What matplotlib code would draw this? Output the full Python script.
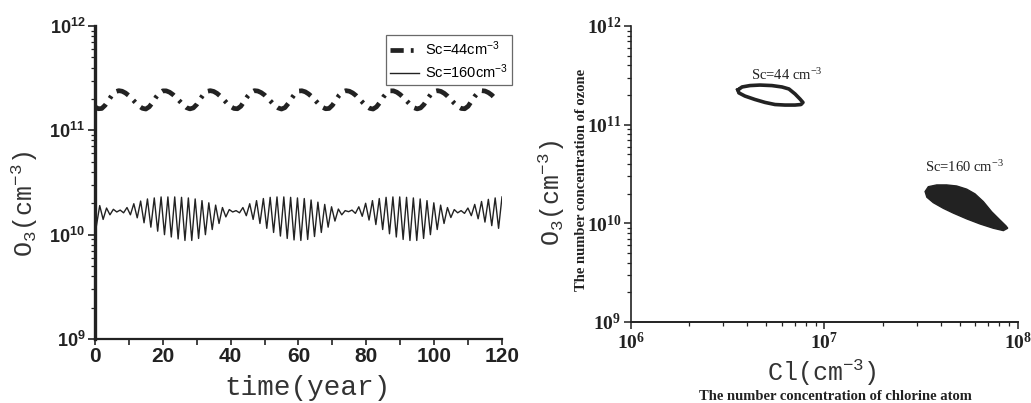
import numpy as np
import matplotlib.pyplot as plt
from matplotlib.ticker import MultipleLocator, LogLocator, NullFormatter

plt.rcParams['font.family'] = 'Liberation Sans'
plt.rcParams['font.weight'] = 'bold'

ink = '#222222'

# Sc = 44 cm^-3 : ozone (1e11 cm^-3), yearly samples t = 0..118
t_44 = np.arange(0, 119)
o3_44 = [1.68, 1.61, 1.62, 1.74, 1.94, 2.17, 2.34, 2.40, 2.37, 2.28, 2.15, 1.99, 1.84, 1.71,
         1.625,
         1.60, 1.68, 1.85, 2.08, 2.28, 2.39, 2.39, 2.32, 2.20, 2.05, 1.90, 1.76, 1.65, 1.605,
         1.64, 1.77, 1.99, 2.21, 2.36, 2.40, 2.36, 2.26, 2.12, 1.96, 1.81, 1.69, 1.62,
         1.61, 1.70, 1.90, 2.12, 2.31, 2.40, 2.38, 2.30, 2.18, 2.02, 1.87, 1.73, 1.64, 1.60,
         1.65, 1.81, 2.03, 2.25, 2.38, 2.395, 2.34, 2.23, 2.09, 1.93, 1.78, 1.67, 1.61,
         1.62, 1.74, 1.94, 2.17, 2.34, 2.40, 2.37, 2.28, 2.15, 1.99, 1.84, 1.71, 1.625,
         1.60, 1.68, 1.85, 2.08, 2.28, 2.39, 2.39, 2.32, 2.20, 2.05, 1.90, 1.76, 1.65, 1.605,
         1.64, 1.77, 1.99, 2.21, 2.36, 2.40, 2.36, 2.26, 2.12, 1.96, 1.81, 1.69, 1.62,
         1.61, 1.70, 1.90, 2.12, 2.31, 2.40, 2.38, 2.30, 2.18, 2.02]

# Sc = 160 cm^-3 : ozone (1e10 cm^-3), troughs and crests of each ~2 year swing
lows_160 = [1.20, 1.40, 1.55, 1.65, 1.62, 1.55, 1.45, 1.30, 1.18, 1.08,
            1.00, 0.95, 0.91, 0.88, 0.88, 0.92, 1.00, 1.12, 1.28, 1.48,
            1.65, 1.62, 1.52, 1.40, 1.28, 1.15, 1.05, 0.97, 0.92, 0.89,
            0.88, 0.90, 0.96, 1.05, 1.18, 1.35, 1.55, 1.66, 1.60, 1.50,
            1.38, 1.25, 1.12, 1.02, 0.95, 0.90, 0.88, 0.88, 0.92, 1.00,
            1.12, 1.28, 1.46, 1.62, 1.60, 1.52, 1.42, 1.32, 1.22, 1.15]
highs_160 = [1.90, 1.80, 1.75, 1.72, 1.82, 1.98, 2.10, 2.20, 2.25, 2.30,
             2.30, 2.30, 2.28, 2.25, 2.20, 2.12, 2.02, 1.92, 1.82, 1.74,
             1.70, 1.82, 1.98, 2.12, 2.22, 2.28, 2.30, 2.30, 2.28, 2.25,
             2.22, 2.15, 2.05, 1.95, 1.85, 1.76, 1.70, 1.72, 1.85, 2.00,
             2.12, 2.22, 2.28, 2.30, 2.30, 2.28, 2.25, 2.20, 2.12, 2.02,
             1.92, 1.82, 1.74, 1.70, 1.80, 1.95, 2.08, 2.18, 2.25, 2.30]

# phase portraits (Cl, O3)
loop44_cl = [3.57e6, 3.75e6, 4.12e6, 4.64e6, 5.35e6, 6.03e6, 6.55e6, 7.04e6, 7.47e6, 7.74e6,
             7.56e6, 7.04e6, 6.25e6, 5.55e6, 4.93e6, 4.37e6, 3.88e6, 3.61e6, 3.57e6]
loop44_o3 = [2.25e11, 2.41e11, 2.49e11, 2.52e11, 2.49e11, 2.41e11, 2.30e11, 2.05e11, 1.82e11,
             1.68e11, 1.60e11, 1.58e11, 1.58e11, 1.60e11, 1.68e11, 1.80e11, 1.95e11, 2.10e11,
             2.25e11]
blob160_cl = [3.31e7, 3.44e7, 3.80e7, 4.28e7, 4.82e7, 5.43e7, 5.99e7, 6.62e7, 7.31e7, 8.07e7,
              8.67e7, 8.85e7, 8.40e7, 7.45e7, 6.36e7, 5.43e7, 4.63e7, 4.11e7, 3.65e7, 3.38e7]
blob160_o3 = [2.10e10, 2.35e10, 2.45e10, 2.45e10, 2.39e10, 2.22e10, 1.99e10, 1.66e10, 1.31e10,
              1.08e10, 9.41e9, 8.92e9, 8.44e9, 8.92e9, 9.86e9, 1.11e10, 1.27e10, 1.42e10,
              1.62e10, 1.84e10]

t_160 = np.linspace(0.4, 120, 2 * len(lows_160))
o3_160 = np.ravel(np.column_stack([lows_160, highs_160]))

fig = plt.figure(figsize=(10.31, 4.03), dpi=100)

# ---------------- left: time series ----------------
ax1 = fig.add_axes([0.0921, 0.1588, 0.3948, 0.7767])
l44, = ax1.plot(t_44, np.array(o3_44) * 1e11, color=ink, lw=3.4, solid_capstyle='butt',
                dash_capstyle='butt', label=r'Sc=44cm$\mathdefault{^{-3}}$')
l44.set_dashes((2.8, 1.5, 0.6, 1.5))
ax1.plot(t_160, o3_160 * 1e10, color=ink, lw=1.0, label=r'Sc=160cm$\mathdefault{^{-3}}$')
ax1.set_yscale('log')
ax1.set_xlim(0, 120)
ax1.set_ylim(1e9, 1e12)
ax1.xaxis.set_major_locator(MultipleLocator(20))
ax1.xaxis.set_minor_locator(MultipleLocator(10))
ax1.yaxis.set_minor_locator(LogLocator(base=10, subs=np.arange(2, 10)))
ax1.yaxis.set_minor_formatter(NullFormatter())
for s in ['top', 'right']:
    ax1.spines[s].set_visible(False)
ax1.spines['left'].set_linewidth(2.4)
ax1.spines['bottom'].set_linewidth(1.6)
ax1.spines['left'].set_color(ink)
ax1.spines['bottom'].set_color(ink)
ax1.tick_params(axis='x', which='major', direction='out', length=4, width=1.2, labelsize=15,
                colors=ink, pad=2)
ax1.tick_params(axis='x', which='minor', direction='out', length=4, width=1.2, colors=ink)
ax1.tick_params(axis='y', which='major', direction='out', length=5, width=1.2, labelsize=13,
                colors=ink, pad=2)
ax1.tick_params(axis='y', which='minor', direction='out', length=3, width=0.9, colors=ink)

leg = ax1.legend(loc='upper right', bbox_to_anchor=(1.025, 0.971), borderaxespad=0,
                 frameon=True, fancybox=False, edgecolor='#444444', borderpad=0.3,
                 handlelength=2.0, handletextpad=0.4, labelspacing=0.3,
                 prop={'family': 'Liberation Sans', 'weight': 'normal', 'size': 10.5})
leg.get_frame().set_linewidth(0.9)

ax1.text(0.523, -0.155, 'time(year)', transform=ax1.transAxes, ha='center', va='center',
         family='Liberation Mono', weight='normal', fontsize=20, color='#333333')
ax1.text(-0.172, 0.431, r'$\mathdefault{O_3(cm^{-3})}$', transform=ax1.transAxes, ha='center',
         va='center', rotation=90, family='Liberation Mono', weight='normal', fontsize=18,
         color='#333333')

# ---------------- right: phase portrait ----------------
ax2 = fig.add_axes([0.612, 0.201, 0.3754, 0.7345])
ax2.plot(loop44_cl, loop44_o3, color=ink, lw=2.6, solid_joinstyle='round')
ax2.fill(blob160_cl, blob160_o3, color=ink, lw=1.0, edgecolor=ink)
ax2.set_xscale('log')
ax2.set_yscale('log')
ax2.set_xlim(1e6, 1e8)
ax2.set_ylim(1e9, 1e12)
ax2.xaxis.set_minor_locator(LogLocator(base=10, subs=np.arange(2, 10)))
ax2.yaxis.set_minor_locator(LogLocator(base=10, subs=np.arange(2, 10)))
ax2.xaxis.set_minor_formatter(NullFormatter())
ax2.yaxis.set_minor_formatter(NullFormatter())
for s in ['top', 'right']:
    ax2.spines[s].set_visible(False)
ax2.spines['left'].set_linewidth(1.2)
ax2.spines['bottom'].set_linewidth(1.4)
ax2.spines['left'].set_color(ink)
ax2.spines['bottom'].set_color(ink)
ax2.tick_params(which='major', direction='out', length=5, width=1.1, labelsize=14, colors=ink,
                labelfontfamily='Liberation Serif', pad=2)
ax2.tick_params(which='minor', direction='out', length=3, width=0.9, colors=ink)

ax2.text(6.4e6, 3.2e11, r'Sc=44 cm$\mathdefault{^{-3}}$', ha='center', va='center',
         family='Liberation Serif', weight='normal', fontsize=10.5, color=ink)
ax2.text(5.3e7, 3.7e10, r'Sc=160 cm$\mathdefault{^{-3}}$', ha='center', va='center',
         family='Liberation Serif', weight='normal', fontsize=10.5, color=ink)

ax2.text(-0.204, 0.436, r'$\mathdefault{O_3(cm^{-3})}$', transform=ax2.transAxes, ha='center',
         va='center', rotation=90, family='Liberation Mono', weight='normal', fontsize=18,
         color='#333333')
ax2.text(-0.127, 0.48, 'The number concentration of ozone', transform=ax2.transAxes, ha='center',
         va='center', rotation=90, family='Liberation Serif', weight='bold', fontsize=10.5,
         color=ink)
ax2.text(0.494, -0.172, r'$\mathdefault{Cl(cm^{-3})}$', transform=ax2.transAxes, ha='center',
         va='center', family='Liberation Mono', weight='normal', fontsize=18, color='#333333')
ax2.text(0.527, -0.253, 'The number concentration of chlorine atom', transform=ax2.transAxes,
         ha='center', va='center', family='Liberation Serif', weight='bold', fontsize=10.5,
         color=ink)

fig.savefig('out.png', dpi=100)
